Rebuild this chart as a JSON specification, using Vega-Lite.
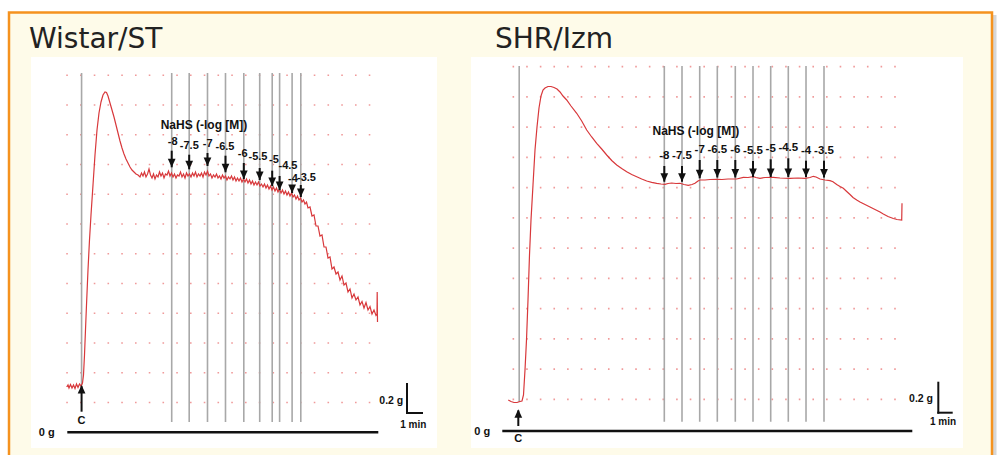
{
"$schema":"https://vega.github.io/schema/vega-lite/v6.json",
"width":997,"height":455,"padding":0,"autosize":{"type":"none"},
"background":"#ffffff",
"config":{"view":{"stroke":null}},
"datasets":{
"gridRows":[{"g":0.2},{"g":0.4},{"g":0.6},{"g":0.8},{"g":1.0},{"g":1.2},{"g":1.4},{"g":1.6},{"g":1.8},{"g":2.0},{"g":2.2},{"g":2.4}],
"leftDoses":[
{"dose":"-8","t":7.615,"labelT":7.687,"labelG":1.9536,"arrowTop":1.8931,"arrowTip":1.7815},
{"dose":"-7.5","t":8.887,"labelT":8.895,"labelG":1.9267,"arrowTop":1.8662,"arrowTip":1.7681},
{"dose":"-7","t":10.218,"labelT":10.233,"labelG":1.9382,"arrowTop":1.8776,"arrowTip":1.7903},
{"dose":"-6.5","t":11.527,"labelT":11.491,"labelG":1.92,"arrowTop":1.8595,"arrowTip":1.7479},
{"dose":"-6","t":12.858,"labelT":12.778,"labelG":1.8709,"arrowTop":1.8104,"arrowTip":1.7029},
{"dose":"-5.5","t":14.015,"labelT":13.891,"labelG":1.8508,"arrowTop":1.7768,"arrowTip":1.6961},
{"dose":"-5","t":14.924,"labelT":15.055,"labelG":1.8273,"arrowTop":1.7587,"arrowTip":1.6558},
{"dose":"-4.5","t":15.462,"labelT":16.073,"labelG":1.7936,"arrowTop":1.723,"arrowTip":1.6289},
{"dose":"-4","t":16.371,"labelT":16.436,"labelG":1.7029,"arrowTop":1.6625,"arrowTip":1.6087},
{"dose":"-3.5","t":17.004,"labelT":17.418,"labelG":1.7096,"arrowTop":1.6625,"arrowTip":1.5818}],
"rightDoses":[
{"dose":"-8","t":11.077,"labelG":1.8093,"arrowTop":1.7431,"arrowTip":1.6393},
{"dose":"-7.5","t":12.375,"labelG":1.8093,"arrowTop":1.7431,"arrowTip":1.6393},
{"dose":"-7","t":13.674,"labelG":1.8489,"arrowTop":1.7828,"arrowTip":1.6618},
{"dose":"-6.5","t":14.965,"labelG":1.8489,"arrowTop":1.7828,"arrowTip":1.6671},
{"dose":"-6","t":16.285,"labelG":1.8489,"arrowTop":1.7828,"arrowTip":1.6671},
{"dose":"-5.5","t":17.584,"labelG":1.8423,"arrowTop":1.7762,"arrowTip":1.6704},
{"dose":"-5","t":18.882,"labelG":1.8536,"arrowTop":1.7874,"arrowTip":1.6704},
{"dose":"-4.5","t":20.173,"labelG":1.8602,"arrowTop":1.7941,"arrowTip":1.6704},
{"dose":"-4","t":21.472,"labelG":1.8443,"arrowTop":1.7782,"arrowTip":1.6704},
{"dose":"-3.5","t":22.792,"labelG":1.8443,"arrowTop":1.7782,"arrowTip":1.6671}],
"leftTrace":[
{"t":-0.022,"g":0.3045},{"t":0.073,"g":0.318},{"t":0.145,"g":0.2978},{"t":0.255,"g":0.3213},{"t":0.364,"g":0.2978},{"t":0.473,"g":0.318},{"t":0.582,"g":0.2945},{"t":0.691,"g":0.3247},{"t":0.8,"g":0.3012},{"t":0.909,"g":0.3247},{"t":1.018,"g":0.3113},{"t":1.127,"g":0.3314},{"t":1.2,"g":0.3852},{"t":1.273,"g":0.5197},{"t":1.345,"g":0.6877},{"t":1.418,"g":0.8558},{"t":1.527,"g":1.0911},{"t":1.636,"g":1.2928},{"t":1.745,"g":1.4608},{"t":1.891,"g":1.6625},{"t":2.036,"g":1.8642},{"t":2.182,"g":2.0323},{"t":2.327,"g":2.1466},{"t":2.473,"g":2.2205},{"t":2.618,"g":2.2676},{"t":2.764,"g":2.2877},{"t":2.873,"g":2.2844},{"t":2.982,"g":2.2608},{"t":3.127,"g":2.2138},{"t":3.273,"g":2.1667},{"t":3.418,"g":2.1197},{"t":3.564,"g":2.0659},{"t":3.709,"g":2.0121},{"t":3.855,"g":1.9583},{"t":4.0,"g":1.9113},{"t":4.145,"g":1.8709},{"t":4.291,"g":1.8373},{"t":4.436,"g":1.8104},{"t":4.582,"g":1.7835},{"t":4.727,"g":1.7634},{"t":4.873,"g":1.7499},{"t":5.018,"g":1.7365},{"t":5.164,"g":1.7298},{"t":5.309,"g":1.7163},
{"t":5.418,"g":1.7432},{"t":5.527,"g":1.723},{"t":5.636,"g":1.7499},{"t":5.745,"g":1.7163},{"t":5.855,"g":1.7365},{"t":5.964,"g":1.7701},{"t":6.073,"g":1.7298},{"t":6.182,"g":1.7096},{"t":6.291,"g":1.7365},{"t":6.4,"g":1.7029},{"t":6.509,"g":1.7298},{"t":6.618,"g":1.7163},{"t":6.727,"g":1.7499},{"t":6.836,"g":1.723},{"t":6.945,"g":1.7432},{"t":7.055,"g":1.7096},{"t":7.164,"g":1.7365},{"t":7.273,"g":1.7298},{"t":7.382,"g":1.7566},{"t":7.491,"g":1.723},{"t":7.6,"g":1.7432},{"t":7.709,"g":1.7163},{"t":7.818,"g":1.7365},{"t":7.927,"g":1.7096},{"t":8.036,"g":1.7298},{"t":8.145,"g":1.723},{"t":8.255,"g":1.7499},{"t":8.364,"g":1.7163},{"t":8.473,"g":1.7365},{"t":8.582,"g":1.7096},{"t":8.691,"g":1.7432},{"t":8.8,"g":1.723},{"t":8.909,"g":1.7365},{"t":9.018,"g":1.7163},{"t":9.127,"g":1.7432},{"t":9.236,"g":1.723},{"t":9.345,"g":1.7499},{"t":9.455,"g":1.7163},{"t":9.564,"g":1.7365},{"t":9.673,"g":1.723},{"t":9.782,"g":1.7432},{"t":9.891,"g":1.7163},{"t":10.0,"g":1.7499},{"t":10.109,"g":1.7298},{"t":10.218,"g":1.7566},{"t":10.327,"g":1.723},{"t":10.436,"g":1.7365},{"t":10.545,"g":1.7096},{"t":10.655,"g":1.7298},{"t":10.764,"g":1.7163},{"t":10.873,"g":1.7365},{"t":10.982,"g":1.7096},{"t":11.091,"g":1.723},{"t":11.2,"g":1.7029},{"t":11.309,"g":1.7298},{"t":11.418,"g":1.7096},{"t":11.527,"g":1.723},{"t":11.636,"g":1.6961},{"t":11.745,"g":1.7163},{"t":11.855,"g":1.7029},{"t":11.964,"g":1.723},{"t":12.073,"g":1.6961},{"t":12.182,"g":1.7163},{"t":12.291,"g":1.6894},{"t":12.4,"g":1.7096},{"t":12.509,"g":1.6894},{"t":12.618,"g":1.7096},{"t":12.727,"g":1.6827},{"t":12.836,"g":1.7029},{"t":12.945,"g":1.6827},{"t":13.055,"g":1.7029},{"t":13.164,"g":1.676},{"t":13.273,"g":1.6961},{"t":13.382,"g":1.6692},{"t":13.491,"g":1.6894},{"t":13.6,"g":1.6625},{"t":13.709,"g":1.6827},{"t":13.818,"g":1.6625},{"t":13.927,"g":1.6827},{"t":14.036,"g":1.6558},{"t":14.145,"g":1.6692},{"t":14.255,"g":1.6491},{"t":14.364,"g":1.6692},{"t":14.473,"g":1.6423},{"t":14.582,"g":1.6625},{"t":14.691,"g":1.6356},{"t":14.8,"g":1.6558},{"t":14.909,"g":1.6289},{"t":15.018,"g":1.6491},{"t":15.127,"g":1.6222},{"t":15.236,"g":1.6423},{"t":15.345,"g":1.6154},{"t":15.455,"g":1.6356},{"t":15.564,"g":1.6087},{"t":15.673,"g":1.6289},{"t":15.782,"g":1.602},{"t":15.891,"g":1.6222},{"t":16.0,"g":1.5953},{"t":16.109,"g":1.6154},{"t":16.218,"g":1.5885},{"t":16.327,"g":1.6087},{"t":16.436,"g":1.5818},{"t":16.545,"g":1.5953},{"t":16.655,"g":1.5684},{"t":16.764,"g":1.5885},{"t":16.873,"g":1.5616},{"t":16.982,"g":1.5751},{"t":17.091,"g":1.5482},{"t":17.2,"g":1.5616},{"t":17.309,"g":1.5347},{"t":17.418,"g":1.5482},
{"t":17.527,"g":1.5079},{"t":17.673,"g":1.5146},{"t":17.818,"g":1.4541},{"t":17.964,"g":1.4608},{"t":18.109,"g":1.3869},{"t":18.255,"g":1.3869},{"t":18.4,"g":1.3197},{"t":18.545,"g":1.3264},{"t":18.691,"g":1.2457},{"t":18.836,"g":1.2457},{"t":18.982,"g":1.1718},{"t":19.127,"g":1.1785},{"t":19.273,"g":1.0978},{"t":19.418,"g":1.1113},{"t":19.564,"g":1.0642},{"t":19.709,"g":1.0777},{"t":19.855,"g":1.0239},{"t":20.0,"g":1.0508},{"t":20.145,"g":0.9902},{"t":20.291,"g":1.0037},{"t":20.436,"g":0.9432},{"t":20.582,"g":0.9634},{"t":20.727,"g":0.9029},{"t":20.873,"g":0.9297},{"t":21.018,"g":0.8894},{"t":21.164,"g":0.9096},{"t":21.309,"g":0.8558},{"t":21.455,"g":0.8793},{"t":21.6,"g":0.8356},{"t":21.745,"g":0.8726},{"t":21.891,"g":0.8222},{"t":22.036,"g":0.8457},{"t":22.182,"g":0.7953},{"t":22.327,"g":0.8222},{"t":22.473,"g":0.7852},{"t":22.545,"g":0.7953},{"t":22.56,"g":0.9432},{"t":22.582,"g":0.7415}],
"rightTrace":[
{"t":-0.367,"g":0.196},{"t":-0.169,"g":0.186},{"t":0.051,"g":0.1795},{"t":0.271,"g":0.1795},{"t":0.491,"g":0.186},{"t":0.638,"g":0.1894},{"t":0.748,"g":0.2291},{"t":0.858,"g":0.3944},{"t":0.968,"g":0.5927},{"t":1.078,"g":0.8572},{"t":1.188,"g":1.1547},{"t":1.298,"g":1.3861},{"t":1.445,"g":1.6175},{"t":1.592,"g":1.8489},{"t":1.739,"g":2.001},{"t":1.885,"g":2.1266},{"t":2.032,"g":2.2059},{"t":2.179,"g":2.2456},{"t":2.325,"g":2.2588},{"t":2.546,"g":2.2688},{"t":2.766,"g":2.2688},{"t":2.986,"g":2.2621},{"t":3.206,"g":2.2522},{"t":3.426,"g":2.2324},{"t":3.646,"g":2.2059},{"t":3.917,"g":2.1795},{"t":4.233,"g":2.1398},{"t":4.651,"g":2.0916},{"t":5.018,"g":2.0407},{"t":5.384,"g":1.9812},{"t":5.751,"g":1.9349},{"t":6.118,"g":1.8932},{"t":6.485,"g":1.8555},{"t":6.852,"g":1.8159},{"t":7.218,"g":1.7795},{"t":7.585,"g":1.7498},{"t":7.952,"g":1.7266},{"t":8.319,"g":1.7055},{"t":8.686,"g":1.6869},{"t":9.052,"g":1.6724},{"t":9.419,"g":1.6572},{"t":9.786,"g":1.644},{"t":10.153,"g":1.6354},{"t":10.519,"g":1.6288},{"t":10.835,"g":1.6241},{"t":11.128,"g":1.6222},{"t":11.348,"g":1.6274},{"t":11.62,"g":1.6308},{"t":11.935,"g":1.6274},{"t":12.229,"g":1.6288},{"t":12.522,"g":1.6208},{"t":12.837,"g":1.6155},{"t":13.109,"g":1.6208},{"t":13.329,"g":1.6288},{"t":13.549,"g":1.644},{"t":13.696,"g":1.6506},{"t":14.062,"g":1.6506},{"t":14.429,"g":1.6539},{"t":14.921,"g":1.6552},{"t":15.31,"g":1.6539},{"t":15.75,"g":1.6572},{"t":16.388,"g":1.6572},{"t":16.872,"g":1.6684},{"t":17.217,"g":1.6671},{"t":17.606,"g":1.6724},{"t":17.804,"g":1.6671},{"t":18.097,"g":1.6618},{"t":18.464,"g":1.6671},{"t":19.073,"g":1.6684},{"t":19.564,"g":1.6638},{"t":20.298,"g":1.6618},{"t":20.885,"g":1.6638},{"t":21.398,"g":1.6618},{"t":21.765,"g":1.6671},{"t":22.007,"g":1.675},{"t":22.205,"g":1.6704},{"t":22.499,"g":1.6572},{"t":22.865,"g":1.6506},{"t":23.232,"g":1.6459},{"t":23.452,"g":1.6393},{"t":23.724,"g":1.6208},{"t":23.966,"g":1.6076},{"t":24.208,"g":1.5957},{"t":24.457,"g":1.5746},{"t":24.699,"g":1.5547},{"t":24.919,"g":1.5349},{"t":25.191,"g":1.5183},{"t":25.433,"g":1.5051},{"t":25.8,"g":1.4886},{"t":26.166,"g":1.4721},{"t":26.533,"g":1.4555},{"t":26.9,"g":1.439},{"t":27.142,"g":1.4258},{"t":27.487,"g":1.4093},{"t":27.876,"g":1.396},{"t":28.147,"g":1.3894},{"t":28.492,"g":1.3861},{"t":28.514,"g":1.4965}]
},
"layer":[
{"layer":[
{"data":{"values":[{}]},"mark":{"type":"rect","color":"#d6d6d6"},
 "encoding":{"x":{"datum":-3.855,"type":"quantitative","scale":{"domain":[0,22],"range":[67,369.5],"nice":false,"zero":false},"axis":null},"x2":{"datum":67.6},
 "y":{"datum":2.8054,"type":"quantitative","scale":{"domain":[0,2.4],"range":[432.3,75.3],"nice":false,"zero":false},"axis":null},"y2":{"datum":-0.2534}}},
{"data":{"values":[{}]},"mark":{"type":"rect","fill":"#fefbe9","stroke":"#f5921e","strokeWidth":2.5},
 "encoding":{"x":{"datum":-4.218,"type":"quantitative","scale":{"domain":[0,22],"range":[67,369.5],"nice":false,"zero":false},"axis":null},"x2":{"datum":67.273},
 "y":{"datum":2.822,"type":"quantitative","scale":{"domain":[0,2.4],"range":[432.3,75.3],"nice":false,"zero":false},"axis":null},"y2":{"datum":-0.2534}}},
{"data":{"values":[{}]},"mark":{"type":"rect","color":"#ffffff"},
 "encoding":{"x":{"datum":-2.618,"type":"quantitative","scale":{"domain":[0,22],"range":[67,369.5],"nice":false,"zero":false},"axis":null},"x2":{"datum":26.909},
 "y":{"datum":2.523,"type":"quantitative","scale":{"domain":[0,2.4],"range":[432.3,75.3],"nice":false,"zero":false},"axis":null},"y2":{"datum":-0.1055}}},
{"data":{"values":[{}]},"mark":{"type":"text","text":"Wistar/ST","font":"DejaVu Sans","fontSize":28,"align":"left","baseline":"alphabetic","color":"#222222"},
 "encoding":{"x":{"datum":-2.764,"type":"quantitative","scale":{"domain":[0,22],"range":[67,369.5],"nice":false,"zero":false},"axis":null},
 "y":{"datum":2.5835,"type":"quantitative","scale":{"domain":[0,2.4],"range":[432.3,75.3],"nice":false,"zero":false},"axis":null}}},
{"data":{"name":"gridRows"},"mark":{"type":"rule","color":"#f09a9a","strokeWidth":1.6,"strokeDash":[1.6,12.15]},
 "encoding":{"x":{"datum":-0.055,"type":"quantitative","scale":{"domain":[0,22],"range":[67,369.5],"nice":false,"zero":false},"axis":null},"x2":{"datum":22.06},
 "y":{"field":"g","type":"quantitative","scale":{"domain":[0,2.4],"range":[432.3,75.3],"nice":false,"zero":false},"axis":null}}},
{"data":{"values":[{}]},"mark":{"type":"rule","color":"#a8a8a8","strokeWidth":1.6},
 "encoding":{"x":{"datum":1.06,"type":"quantitative","scale":{"domain":[0,22],"range":[67,369.5],"nice":false,"zero":false},"axis":null},
 "y":{"datum":2.4155,"type":"quantitative","scale":{"domain":[0,2.4],"range":[432.3,75.3],"nice":false,"zero":false},"axis":null},"y2":{"datum":0.3113}}},
{"data":{"name":"leftDoses"},"mark":{"type":"rule","color":"#a8a8a8","strokeWidth":1.6},
 "encoding":{"x":{"field":"t","type":"quantitative","scale":{"domain":[0,22],"range":[67,369.5],"nice":false,"zero":false},"axis":null},
 "y":{"datum":2.4155,"type":"quantitative","scale":{"domain":[0,2.4],"range":[432.3,75.3],"nice":false,"zero":false},"axis":null},"y2":{"datum":0.0692}}},
{"data":{"name":"leftTrace"},"mark":{"type":"line","color":"#d8383b","strokeWidth":1.2},
 "encoding":{"x":{"field":"t","type":"quantitative","scale":{"domain":[0,22],"range":[67,369.5],"nice":false,"zero":false},"axis":null},
 "y":{"field":"g","type":"quantitative","scale":{"domain":[0,2.4],"range":[432.3,75.3],"nice":false,"zero":false},"axis":null}}},
{"data":{"values":[{}]},"mark":{"type":"rule","color":"#111111","strokeWidth":2.6},
 "encoding":{"x":{"datum":0.022,"type":"quantitative","scale":{"domain":[0,22],"range":[67,369.5],"nice":false,"zero":false},"axis":null},"x2":{"datum":22.64},
 "y":{"datum":0,"type":"quantitative","scale":{"domain":[0,2.4],"range":[432.3,75.3],"nice":false,"zero":false},"axis":null}}},
{"data":{"name":"leftDoses"},"mark":{"type":"rule","color":"#111111","strokeWidth":2},
 "encoding":{"x":{"field":"t","type":"quantitative","scale":{"domain":[0,22],"range":[67,369.5],"nice":false,"zero":false},"axis":null},
 "y":{"field":"arrowTop","type":"quantitative","scale":{"domain":[0,2.4],"range":[432.3,75.3],"nice":false,"zero":false},"axis":null},"y2":{"field":"arrowTip"}}},
{"data":{"name":"leftDoses"},"mark":{"type":"point","shape":"M-1,-2.2L1,-2.2L0,0Z","size":60,"filled":true,"opacity":1,"color":"#111111","strokeWidth":0},
 "encoding":{"x":{"field":"t","type":"quantitative","scale":{"domain":[0,22],"range":[67,369.5],"nice":false,"zero":false},"axis":null},
 "y":{"field":"arrowTip","type":"quantitative","scale":{"domain":[0,2.4],"range":[432.3,75.3],"nice":false,"zero":false},"axis":null}}},
{"data":{"name":"leftDoses"},"mark":{"type":"text","font":"'Liberation Sans Narrow', 'Liberation Sans', sans-serif","fontWeight":"bold","fontSize":11,"align":"center","baseline":"middle","color":"#111111"},
 "encoding":{"x":{"field":"labelT","type":"quantitative","scale":{"domain":[0,22],"range":[67,369.5],"nice":false,"zero":false},"axis":null},
 "y":{"field":"labelG","type":"quantitative","scale":{"domain":[0,2.4],"range":[432.3,75.3],"nice":false,"zero":false},"axis":null},"text":{"field":"dose"}}},
{"data":{"values":[{}]},"mark":{"type":"text","text":"NaHS (-log [M])","font":"Liberation Sans","fontWeight":"bold","fontSize":12,"align":"center","baseline":"middle","color":"#111111"},
 "encoding":{"x":{"datum":9.964,"type":"quantitative","scale":{"domain":[0,22],"range":[67,369.5],"nice":false,"zero":false},"axis":null},
 "y":{"datum":2.0659,"type":"quantitative","scale":{"domain":[0,2.4],"range":[432.3,75.3],"nice":false,"zero":false},"axis":null}}},
{"data":{"values":[{}]},"mark":{"type":"rule","color":"#111111","strokeWidth":2},
 "encoding":{"x":{"datum":1.06,"type":"quantitative","scale":{"domain":[0,22],"range":[67,369.5],"nice":false,"zero":false},"axis":null},
 "y":{"datum":0.31,"type":"quantitative","scale":{"domain":[0,2.4],"range":[432.3,75.3],"nice":false,"zero":false},"axis":null},"y2":{"datum":0.1385}}},
{"data":{"values":[{}]},"mark":{"type":"point","shape":"M-1,2.2L1,2.2L0,0Z","size":60,"filled":true,"opacity":1,"color":"#111111","strokeWidth":0},
 "encoding":{"x":{"datum":1.06,"type":"quantitative","scale":{"domain":[0,22],"range":[67,369.5],"nice":false,"zero":false},"axis":null},
 "y":{"datum":0.318,"type":"quantitative","scale":{"domain":[0,2.4],"range":[432.3,75.3],"nice":false,"zero":false},"axis":null}}},
{"data":{"values":[{}]},"mark":{"type":"text","text":"C","font":"Liberation Sans","fontWeight":"bold","fontSize":11,"align":"center","baseline":"middle","color":"#111111"},
 "encoding":{"x":{"datum":1.06,"type":"quantitative","scale":{"domain":[0,22],"range":[67,369.5],"nice":false,"zero":false},"axis":null},
 "y":{"datum":0.078,"type":"quantitative","scale":{"domain":[0,2.4],"range":[432.3,75.3],"nice":false,"zero":false},"axis":null}}},
{"data":{"values":[{}]},"mark":{"type":"text","text":"0 g","font":"Liberation Sans","fontWeight":"bold","fontSize":11,"align":"center","baseline":"middle","color":"#111111"},
 "encoding":{"x":{"datum":-1.476,"type":"quantitative","scale":{"domain":[0,22],"range":[67,369.5],"nice":false,"zero":false},"axis":null},
 "y":{"datum":-0.0067,"type":"quantitative","scale":{"domain":[0,2.4],"range":[432.3,75.3],"nice":false,"zero":false},"axis":null}}},
{"data":{"values":[{}]},"mark":{"type":"rule","color":"#111111","strokeWidth":2,"strokeCap":"square"},
 "encoding":{"x":{"datum":24.727,"type":"quantitative","scale":{"domain":[0,22],"range":[67,369.5],"nice":false,"zero":false},"axis":null},
 "y":{"datum":0.3247,"type":"quantitative","scale":{"domain":[0,2.4],"range":[432.3,75.3],"nice":false,"zero":false},"axis":null},"y2":{"datum":0.1297}}},
{"data":{"values":[{}]},"mark":{"type":"rule","color":"#111111","strokeWidth":2,"strokeCap":"square"},
 "encoding":{"x":{"datum":24.727,"type":"quantitative","scale":{"domain":[0,22],"range":[67,369.5],"nice":false,"zero":false},"axis":null},"x2":{"datum":25.818},
 "y":{"datum":0.1297,"type":"quantitative","scale":{"domain":[0,2.4],"range":[432.3,75.3],"nice":false,"zero":false},"axis":null}}},
{"data":{"values":[{}]},"mark":{"type":"text","text":"0.2 g","font":"Liberation Sans","fontWeight":"bold","fontSize":10.5,"align":"right","baseline":"middle","color":"#111111"},
 "encoding":{"x":{"datum":24.458,"type":"quantitative","scale":{"domain":[0,22],"range":[67,369.5],"nice":false,"zero":false},"axis":null},
 "y":{"datum":0.2124,"type":"quantitative","scale":{"domain":[0,2.4],"range":[432.3,75.3],"nice":false,"zero":false},"axis":null}}},
{"data":{"values":[{}]},"mark":{"type":"text","text":"1 min","font":"Liberation Sans","fontWeight":"bold","fontSize":10,"align":"center","baseline":"middle","color":"#111111"},
 "encoding":{"x":{"datum":25.185,"type":"quantitative","scale":{"domain":[0,22],"range":[67,369.5],"nice":false,"zero":false},"axis":null},
 "y":{"datum":0.049,"type":"quantitative","scale":{"domain":[0,2.4],"range":[432.3,75.3],"nice":false,"zero":false},"axis":null}}}
]},
{"layer":[
{"data":{"values":[{}]},"mark":{"type":"rect","color":"#ffffff"},
 "encoding":{"x":{"datum":-3.103,"type":"quantitative","scale":{"domain":[0,28],"range":[513.3,895],"nice":false,"zero":false},"axis":null},"x2":{"datum":32.989},
 "y":{"datum":2.4638,"type":"quantitative","scale":{"domain":[0,2.4],"range":[429.65,66.65],"nice":false,"zero":false},"axis":null},"y2":{"datum":-0.1213}}},
{"data":{"values":[{}]},"mark":{"type":"text","text":"SHR/Izm","font":"DejaVu Sans","fontSize":28,"align":"left","baseline":"alphabetic","color":"#222222"},
 "encoding":{"x":{"datum":-1.342,"type":"quantitative","scale":{"domain":[0,28],"range":[513.3,895],"nice":false,"zero":false},"axis":null},
 "y":{"datum":2.5233,"type":"quantitative","scale":{"domain":[0,2.4],"range":[429.65,66.65],"nice":false,"zero":false},"axis":null}}},
{"data":{"name":"gridRows"},"mark":{"type":"rule","color":"#f09a9a","strokeWidth":1.6,"strokeDash":[1.6,12.03]},
 "encoding":{"x":{"datum":-0.055,"type":"quantitative","scale":{"domain":[0,28],"range":[513.3,895],"nice":false,"zero":false},"axis":null},"x2":{"datum":28.06},
 "y":{"field":"g","type":"quantitative","scale":{"domain":[0,2.4],"range":[429.65,66.65],"nice":false,"zero":false},"axis":null}}},
{"data":{"values":[{}]},"mark":{"type":"rule","color":"#a8a8a8","strokeWidth":1.6},
 "encoding":{"x":{"datum":0.433,"type":"quantitative","scale":{"domain":[0,28],"range":[513.3,895],"nice":false,"zero":false},"axis":null},
 "y":{"datum":2.4043,"type":"quantitative","scale":{"domain":[0,2.4],"range":[429.65,66.65],"nice":false,"zero":false},"axis":null},"y2":{"datum":0.1828}}},
{"data":{"name":"rightDoses"},"mark":{"type":"rule","color":"#a8a8a8","strokeWidth":1.6},
 "encoding":{"x":{"field":"t","type":"quantitative","scale":{"domain":[0,28],"range":[513.3,895],"nice":false,"zero":false},"axis":null},
 "y":{"datum":2.4043,"type":"quantitative","scale":{"domain":[0,2.4],"range":[429.65,66.65],"nice":false,"zero":false},"axis":null},"y2":{"datum":0.0526}}},
{"data":{"name":"rightTrace"},"mark":{"type":"line","color":"#d8383b","strokeWidth":1.2},
 "encoding":{"x":{"field":"t","type":"quantitative","scale":{"domain":[0,28],"range":[513.3,895],"nice":false,"zero":false},"axis":null},
 "y":{"field":"g","type":"quantitative","scale":{"domain":[0,2.4],"range":[429.65,66.65],"nice":false,"zero":false},"axis":null}}},
{"data":{"values":[{}]},"mark":{"type":"rule","color":"#111111","strokeWidth":2.6},
 "encoding":{"x":{"datum":-0.807,"type":"quantitative","scale":{"domain":[0,28],"range":[513.3,895],"nice":false,"zero":false},"axis":null},"x2":{"datum":29.269},
 "y":{"datum":-0.0089,"type":"quantitative","scale":{"domain":[0,2.4],"range":[429.65,66.65],"nice":false,"zero":false},"axis":null}}},
{"data":{"name":"rightDoses"},"mark":{"type":"rule","color":"#111111","strokeWidth":2},
 "encoding":{"x":{"field":"t","type":"quantitative","scale":{"domain":[0,28],"range":[513.3,895],"nice":false,"zero":false},"axis":null},
 "y":{"field":"arrowTop","type":"quantitative","scale":{"domain":[0,2.4],"range":[429.65,66.65],"nice":false,"zero":false},"axis":null},"y2":{"field":"arrowTip"}}},
{"data":{"name":"rightDoses"},"mark":{"type":"point","shape":"M-1,-2.2L1,-2.2L0,0Z","size":60,"filled":true,"opacity":1,"color":"#111111","strokeWidth":0},
 "encoding":{"x":{"field":"t","type":"quantitative","scale":{"domain":[0,28],"range":[513.3,895],"nice":false,"zero":false},"axis":null},
 "y":{"field":"arrowTip","type":"quantitative","scale":{"domain":[0,2.4],"range":[429.65,66.65],"nice":false,"zero":false},"axis":null}}},
{"data":{"name":"rightDoses"},"mark":{"type":"text","font":"'Liberation Sans Narrow', 'Liberation Sans', sans-serif","fontWeight":"bold","fontSize":11.5,"align":"center","baseline":"middle","color":"#111111"},
 "encoding":{"x":{"field":"t","type":"quantitative","scale":{"domain":[0,28],"range":[513.3,895],"nice":false,"zero":false},"axis":null},
 "y":{"field":"labelG","type":"quantitative","scale":{"domain":[0,2.4],"range":[429.65,66.65],"nice":false,"zero":false},"axis":null},"text":{"field":"dose"}}},
{"data":{"values":[{}]},"mark":{"type":"text","text":"NaHS (-log [M])","font":"Liberation Sans","fontWeight":"bold","fontSize":12,"align":"center","baseline":"middle","color":"#111111"},
 "encoding":{"x":{"datum":13.388,"type":"quantitative","scale":{"domain":[0,28],"range":[513.3,895],"nice":false,"zero":false},"axis":null},
 "y":{"datum":1.9765,"type":"quantitative","scale":{"domain":[0,2.4],"range":[429.65,66.65],"nice":false,"zero":false},"axis":null}}},
{"data":{"values":[{}]},"mark":{"type":"rule","color":"#111111","strokeWidth":2},
 "encoding":{"x":{"datum":0.367,"type":"quantitative","scale":{"domain":[0,28],"range":[513.3,895],"nice":false,"zero":false},"axis":null},
 "y":{"datum":0.127,"type":"quantitative","scale":{"domain":[0,2.4],"range":[429.65,66.65],"nice":false,"zero":false},"axis":null},"y2":{"datum":0.0241}}},
{"data":{"values":[{}]},"mark":{"type":"point","shape":"M-1,2.2L1,2.2L0,0Z","size":60,"filled":true,"opacity":1,"color":"#111111","strokeWidth":0},
 "encoding":{"x":{"datum":0.367,"type":"quantitative","scale":{"domain":[0,28],"range":[513.3,895],"nice":false,"zero":false},"axis":null},
 "y":{"datum":0.1345,"type":"quantitative","scale":{"domain":[0,2.4],"range":[429.65,66.65],"nice":false,"zero":false},"axis":null}}},
{"data":{"values":[{}]},"mark":{"type":"text","text":"C","font":"Liberation Sans","fontWeight":"bold","fontSize":11,"align":"center","baseline":"middle","color":"#111111"},
 "encoding":{"x":{"datum":0.367,"type":"quantitative","scale":{"domain":[0,28],"range":[513.3,895],"nice":false,"zero":false},"axis":null},
 "y":{"datum":-0.0638,"type":"quantitative","scale":{"domain":[0,2.4],"range":[429.65,66.65],"nice":false,"zero":false},"axis":null}}},
{"data":{"values":[{}]},"mark":{"type":"text","text":"0 g","font":"Liberation Sans","fontWeight":"bold","fontSize":11,"align":"center","baseline":"middle","color":"#111111"},
 "encoding":{"x":{"datum":-2.274,"type":"quantitative","scale":{"domain":[0,28],"range":[513.3,895],"nice":false,"zero":false},"axis":null},
 "y":{"datum":-0.0136,"type":"quantitative","scale":{"domain":[0,2.4],"range":[429.65,66.65],"nice":false,"zero":false},"axis":null}}},
{"data":{"values":[{}]},"mark":{"type":"rule","color":"#111111","strokeWidth":2,"strokeCap":"square"},
 "encoding":{"x":{"datum":31.177,"type":"quantitative","scale":{"domain":[0,28],"range":[513.3,895],"nice":false,"zero":false},"axis":null},
 "y":{"datum":0.3104,"type":"quantitative","scale":{"domain":[0,2.4],"range":[429.65,66.65],"nice":false,"zero":false},"axis":null},"y2":{"datum":0.1121}}},
{"data":{"values":[{}]},"mark":{"type":"rule","color":"#111111","strokeWidth":2,"strokeCap":"square"},
 "encoding":{"x":{"datum":31.177,"type":"quantitative","scale":{"domain":[0,28],"range":[513.3,895],"nice":false,"zero":false},"axis":null},"x2":{"datum":32.16},
 "y":{"datum":0.1121,"type":"quantitative","scale":{"domain":[0,2.4],"range":[429.65,66.65],"nice":false,"zero":false},"axis":null}}},
{"data":{"values":[{}]},"mark":{"type":"text","text":"0.2 g","font":"Liberation Sans","fontWeight":"bold","fontSize":10.5,"align":"right","baseline":"middle","color":"#111111"},
 "encoding":{"x":{"datum":30.788,"type":"quantitative","scale":{"domain":[0,28],"range":[513.3,895],"nice":false,"zero":false},"axis":null},
 "y":{"datum":0.2007,"type":"quantitative","scale":{"domain":[0,2.4],"range":[429.65,66.65],"nice":false,"zero":false},"axis":null}}},
{"data":{"values":[{}]},"mark":{"type":"text","text":"1 min","font":"Liberation Sans","fontWeight":"bold","fontSize":10,"align":"center","baseline":"middle","color":"#111111"},
 "encoding":{"x":{"datum":31.522,"type":"quantitative","scale":{"domain":[0,28],"range":[513.3,895],"nice":false,"zero":false},"axis":null},
 "y":{"datum":0.0486,"type":"quantitative","scale":{"domain":[0,2.4],"range":[429.65,66.65],"nice":false,"zero":false},"axis":null}}}
]}
],
"resolve":{"scale":{"x":"independent","y":"independent"}}
}
